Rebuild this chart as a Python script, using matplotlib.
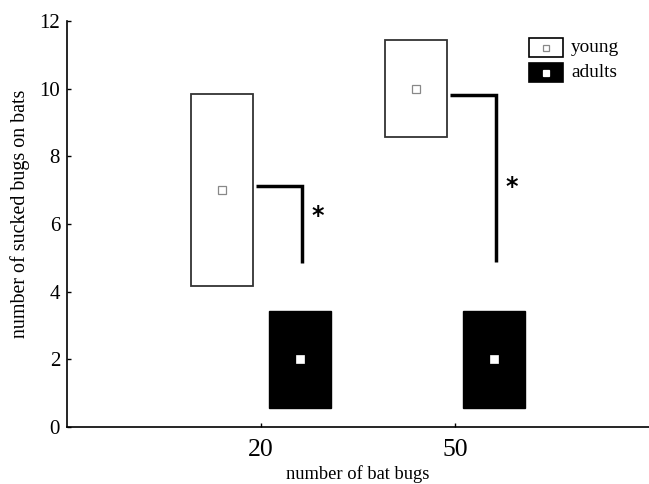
import matplotlib
matplotlib.use("Agg")
import matplotlib.pyplot as plt
from matplotlib.patches import Rectangle

plt.rcParams['font.family'] = ['Liberation Serif', 'DejaVu Serif']

# data
groups = [20, 50]
group_labels = ["20", "50"]
series_names = ["young", "adults"]
young_mean = [7.0, 10.0]
young_low = [4.17, 8.58]
young_high = [9.85, 11.43]
adult_mean = [2.0, 2.0]
adult_low = [0.57, 0.57]
adult_high = [3.43, 3.43]
sig_top = [7.12, 9.82]
sig_bottom = [4.85, 4.87]
sig_star_y = [6.25, 7.1]
sig_label = "*"

fig = plt.figure(figsize=(6.49, 4.84), dpi=100)
ax = fig.add_axes([67/649, 57/484, 582/649, 406/484])
ax.set_xlim(-10, 80)
ax.set_ylim(0, 12)

off = 6.0
w = 9.6
for g, m, lo, hi in zip(groups, young_mean, young_low, young_high):
    ax.add_patch(Rectangle((g - off - w/2, lo), w, hi - lo, facecolor='white',
                           edgecolor='#333333', lw=1.3, zorder=2))
    ax.plot([g - off], [m], marker='s', ms=5.5, mfc='white', mec='#888888', mew=0.9, zorder=3)
for g, m, lo, hi in zip(groups, adult_mean, adult_low, adult_high):
    ax.add_patch(Rectangle((g + off - w/2, lo), w, hi - lo, facecolor='black',
                           edgecolor='black', lw=1.0, zorder=2))
    ax.plot([g + off], [m], marker='s', ms=5.5, mfc='white', mec='white', mew=0.5, zorder=3)

for g, t, b, sy in zip(groups, sig_top, sig_bottom, sig_star_y):
    x0 = g - off + w/2 + 0.5
    x1 = g + off + 0.3
    ax.plot([x0, x1, x1], [t, t, b], color='black', lw=2.5, solid_capstyle='butt',
            solid_joinstyle='miter', zorder=2)
    ax.text(g + 8.8, sy, sig_label, ha='center', va='center', fontsize=17,
            fontfamily='DejaVu Sans', fontweight='bold')

ax.spines['top'].set_visible(False)
ax.spines['right'].set_visible(False)
ax.spines['left'].set_linewidth(1.2)
ax.spines['bottom'].set_linewidth(1.2)
ax.set_xticks(groups)
ax.set_xticklabels(group_labels)
ax.set_yticks(range(0, 13, 2))
ax.tick_params(direction='in', length=3, width=1)
ax.tick_params(axis='x', pad=8.5, labelsize=18.5)
ax.tick_params(axis='y', pad=5, labelsize=15)
ax.set_xlabel("number of bat bugs", fontsize=13.3, labelpad=3)
ax.set_ylabel("number of sucked bugs on bats", fontsize=14.4)
ax.yaxis.set_label_coords(-0.063, 0.525)

# legend (drawn manually in figure pixels)
lx0, lw_, lh = 529/649, 34/649, 19/484
for i, name in enumerate(series_names):
    ytop = [38, 63][i]
    y0 = 1 - (ytop + 19)/484
    fc = 'white' if i == 0 else 'black'
    fig.add_artist(Rectangle((lx0, y0), lw_, lh, transform=fig.transFigure,
                             facecolor=fc, edgecolor='black', lw=1.2))
    mc = '#888888' if i == 0 else 'white'
    fig.add_artist(Rectangle((lx0 + lw_/2 - 3/649, y0 + lh/2 - 3/484), 6/649, 6/484,
                             transform=fig.transFigure, facecolor='white', edgecolor=mc, lw=0.9))
    fig.text(571/649, y0 + lh/2, name, fontsize=13.9, va='center', ha='left')

fig.savefig("out.png", dpi=100)
